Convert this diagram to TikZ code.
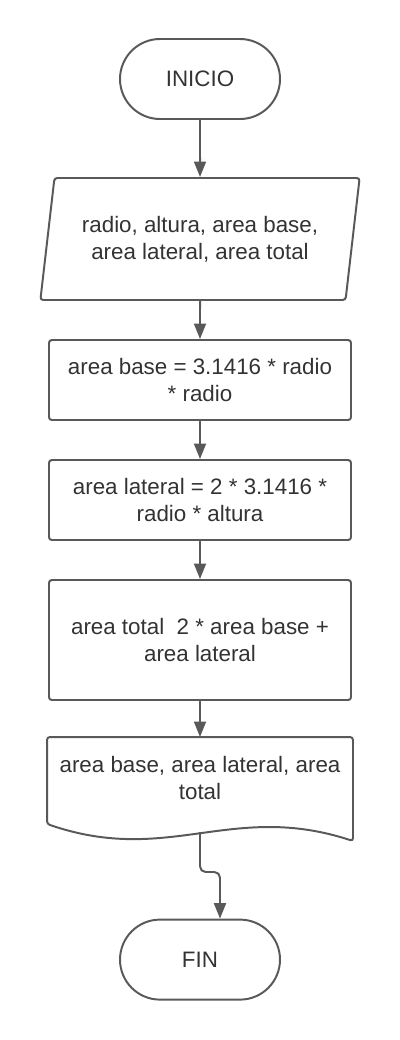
\documentclass[tikz,border=0pt]{standalone}
\usepackage{fontspec}
\setmainfont{Liberation Sans}
\usetikzlibrary{shapes.geometric,arrows.meta}
\definecolor{linegray}{HTML}{595959}
\definecolor{textgray}{HTML}{333333}
\begin{document}
\begin{tikzpicture}[
		>={Triangle[length=11pt,width=8.5pt]},
		box/.style={draw=linegray, line width=1.4pt, fill=white, align=center, inner sep=0pt,
			text=textgray, font=\fontsize{15.9}{19}\selectfont},
		terminal/.style={box, rounded corners=1cm, minimum width=4cm, minimum height=2cm},
		inout/.style={box, trapezium, trapezium left angle=76, trapezium right angle=104,
			trapezium stretches=true, rounded corners=2pt, minimum width=8cm, minimum height=3.05cm},
		process/.style={box, rounded corners=2pt, minimum width=7.55cm, minimum height=2cm},
		docbox/.style={box, draw=none, fill=none, minimum width=7.6cm, minimum height=2cm},
		flow/.style={->, draw=linegray, line width=1.4pt}
	]
		\useasboundingbox (0,0) rectangle (10,-26);
		\node[terminal] (ini) at (5,-1.975) {INICIO};
		\node[inout] (data) at (5,-5.975) {radio, altura, area base,\\area lateral, area total};
		\node[process] (p1) at (5,-9.5) {area base = 3.1416 * radio\\* radio};
		\node[process] (p2) at (5,-12.5) {area lateral = 2 * 3.1416 *\\radio * altura};
		\node[process, minimum height=3cm] (p3) at (5,-16) {area total \ 2 * area base +\\area lateral};
		\node[docbox] (out) at (5,-19.45) {area base, area lateral, area\\total};
		\draw[draw=linegray, line width=1.4pt, rounded corners=2pt]
			([yshift=-0.125cm]out.south west) -- (out.north west) -- (out.north east)
			-- ([yshift=-0.55cm]out.south east)
			.. controls +(-3.05,1) and +(3.05,-1.05) .. ([yshift=-0.125cm]out.south west) -- cycle;
		\node[terminal] (fin) at (5,-23.99) {FIN};
		\foreach \a/\b in {ini/data, data/p1, p1/p2, p2/p3, p3/out} {
			\draw[flow] (\a) -- (\b);
		}
		\coordinate (docb) at (5,-20.8);
		\coordinate (jog) at (5,-21.8);
		\draw[flow, rounded corners=4pt] (docb) -- (jog) -| ([xshift=0.5cm]fin.north);
	\end{tikzpicture}
\end{document}
